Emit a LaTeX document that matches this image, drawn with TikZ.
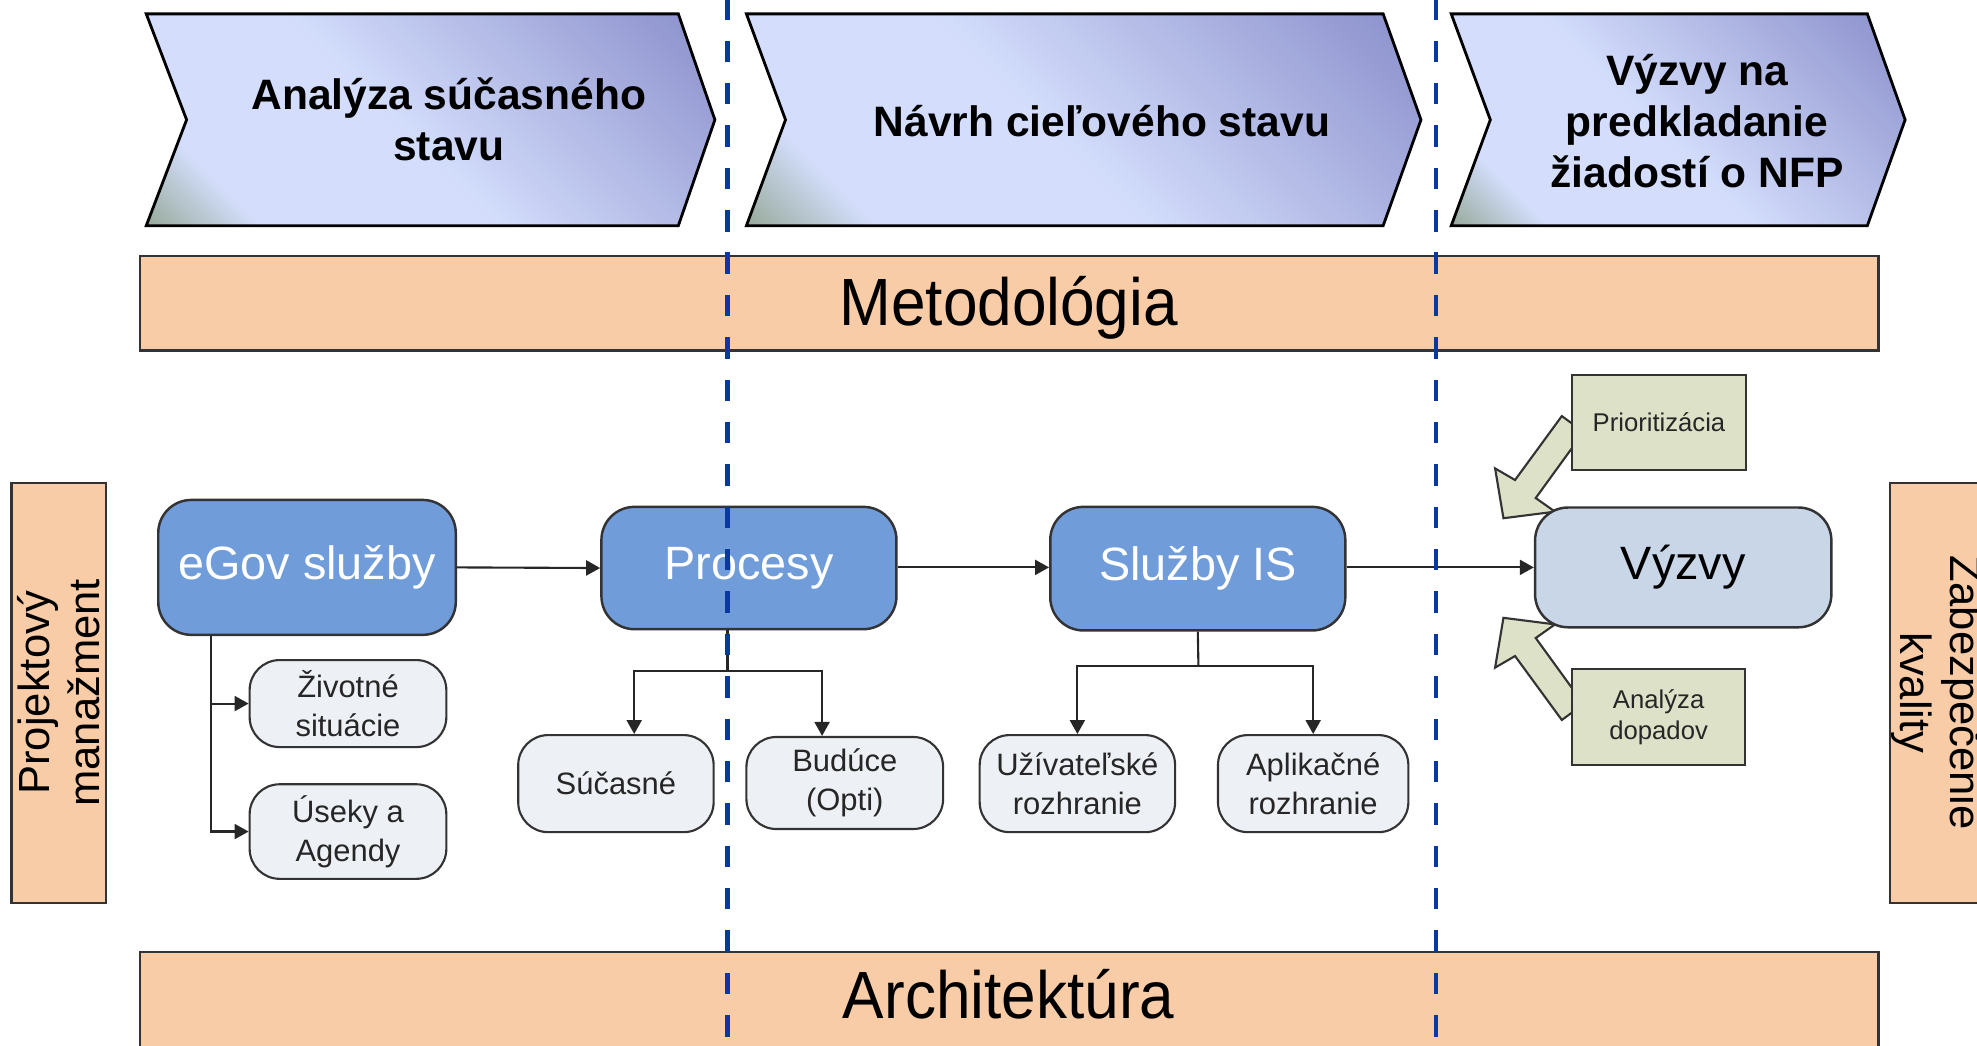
\documentclass[tikz,border=0pt]{standalone}
\usepackage{fontspec}
\setmainfont{Liberation Sans}
\usepackage{graphicx}
\usetikzlibrary{arrows.meta,calc}

\definecolor{chevL}{HTML}{D4DEFC}
\definecolor{chevD}{HTML}{8A8FCB}
\definecolor{chevG}{HTML}{8EA28C}
\definecolor{peach}{HTML}{F9CCA8}
\definecolor{nodeblue}{HTML}{709CDA}
\definecolor{callblue}{HTML}{C8D6E8}
\definecolor{subgray}{HTML}{EDF0F5}
\definecolor{olive}{HTML}{DDE1C7}
\definecolor{edgegray}{HTML}{333333}
\definecolor{phaseblue}{HTML}{0838A0}

% diagonal gradient of the phase chevrons: greenish corner, light body, dark end
\pgfdeclarehorizontalshading{chevshade}{100bp}{color(0bp)=(chevG); color(13bp)=(chevG); color(25bp)=(chevL); color(46bp)=(chevL); color(85bp)=(chevD); color(100bp)=(chevD)}

\newcommand\pxu{0.01261cm}

\begin{document}
\begin{tikzpicture}[x=0.01261cm,y=-0.01261cm,
  chevron/.style={draw=black, line width=0.8pt, shade, shading=chevshade, shading angle=45},
  chevtext/.style={font=\fontsize{12.1}{14.5}\selectfont\bfseries, align=center, inner sep=0},
  bar/.style={draw=edgegray, line width=0.7pt, fill=peach, inner sep=0},
  bartext/.style={font=\fontsize{19}{22}\selectfont, inner sep=0},
  sidebar/.style={draw=edgegray, line width=0.7pt, fill=peach, inner sep=0, align=center,
    minimum width=333*\pxu, minimum height=75*\pxu, font=\fontsize{12.4}{14.2}\selectfont},
  mainbox/.style={draw=edgegray, line width=0.7pt, fill=nodeblue, rounded corners=0.33cm,
    text=white, inner sep=0, font=\fontsize{13.3}{16}\selectfont},
  callbox/.style={mainbox, fill=callblue, text=black},
  subbox/.style={draw=edgegray, line width=0.6pt, fill=subgray, rounded corners=0.3cm,
    text=black!85, inner sep=0, align=center, font=\fontsize{8.8}{11.1}\selectfont},
  notebox/.style={draw=edgegray, line width=0.6pt, fill=olive, inner sep=0, align=center,
    text=black!85, font=\fontsize{7.3}{8.9}\selectfont},
  blockarrow/.style={draw=edgegray, line width=0.6pt, fill=olive, line join=miter},
  link/.style={draw=black!85, line width=0.6pt},
  conn/.style={link, -{Triangle[length=1.4mm,width=1.5mm]}},
  phaseline/.style={draw=phaseblue, line width=1.32pt, dash pattern=on 6.1pt off 5.95pt, dash phase=0.5pt}
]
\useasboundingbox (0,0) rectangle (1568,829);
\clip (0,0) rectangle (1568,829);

% phase chevrons
\path[chevron] (116,11) -- (538,11) -- (567,95) -- (538,179) -- (116,179) -- (148,95) -- cycle;
\path[chevron] (592,11) -- (1097,11) -- (1127,95) -- (1097,179) -- (592,179) -- (623,95) -- cycle;
\path[chevron] (1151,11) -- (1481,11) -- (1511,95) -- (1481,179) -- (1151,179) -- (1182,95) -- cycle;
\node[chevtext] (ph1) at (356,95) {Analýza súčasného\\stavu};
\node[chevtext] (ph2) at (874,96) {Návrh cieľového stavu};
\node[chevtext] (ph3) at (1346,96) {Výzvy na\\predkladanie\\žiadostí o NFP};

% horizontal layers
\node[bar, minimum width=1379*\pxu, minimum height=75*\pxu] (metod) at (800.5,240.5) {};
\node[bartext, anchor=base] (metodtext) at (800,258) {\scalebox{0.93}[1]{Metodológia}};
\node[bar, minimum width=1379*\pxu, minimum height=90*\pxu] (arch) at (800.5,800) {};
\node[bartext, anchor=base] (archtext) at (800,808) {\scalebox{0.93}[1]{Architektúra}};

% vertical layers
\node[sidebar, rotate=90] (pm) at (46.5,549.5) {Projektový\\manažment};
\node[sidebar, rotate=-90] (zk) at (1536.5,549.5) {Zabezpečenie\\kvality};

% block arrows feeding the calls
\path[blockarrow] (1238.7,330) -- (1256,342.6) -- (1218,395) -- (1233.3,405.8) -- (1192.4,411) -- (1185.8,371.5) -- (1201.6,380.7) -- cycle;
\path[blockarrow] (1238.7,571) -- (1256,558.4) -- (1218,506) -- (1233.3,495.2) -- (1192.4,490) -- (1185.8,529.5) -- (1201.6,520.3) -- cycle;

% main chain
\node[mainbox, minimum width=236*\pxu, minimum height=107*\pxu] (egov) at (243.5,450) {eGov služby};
\node[mainbox, minimum width=234*\pxu, minimum height=97*\pxu] (proc) at (594,450.5) {Procesy};
\node[mainbox, minimum width=234*\pxu, minimum height=98*\pxu] (sis) at (950,451) {Služby IS};
\node[callbox, minimum width=235*\pxu, minimum height=95*\pxu] (vyzvy) at (1335,450) {Výzvy};

% notes on the calls
\node[notebox, minimum width=137.5*\pxu, minimum height=75.3*\pxu] (prior) at (1315.75,335.1) {Prioritizácia};
\node[notebox, minimum width=137*\pxu, minimum height=76*\pxu] (dopad) at (1315.5,568.6) {Analýza\\dopadov};

% detail boxes
\node[subbox, minimum width=156*\pxu, minimum height=69*\pxu] (zivot) at (276,558) {Životné\\situácie};
\node[subbox, minimum width=156*\pxu, minimum height=75*\pxu] (useky) at (276,659.5) {Úseky a\\Agendy};
\node[subbox, minimum width=155*\pxu, minimum height=77*\pxu] (sucas) at (488.5,621.5) {Súčasné};
\node[subbox, minimum width=156*\pxu, minimum height=73*\pxu] (buduce) at (670,621) {Budúce\\(Opti)};
\node[subbox, minimum width=155*\pxu, minimum height=77*\pxu] (uziv) at (854.5,621.5) {Užívateľské\\rozhranie};
\node[subbox, minimum width=151*\pxu, minimum height=77*\pxu] (aplik) at (1041.5,621.5) {Aplikačné\\rozhranie};

% chain connectors
\draw[conn] (egov.east) -- (proc.west);
\draw[conn] (proc.east |- egov.east) -- (sis.west |- egov.east);
\draw[conn] (sis.east |- egov.east) -- (vyzvy.west |- egov.east);

% branches
\coordinate (ebr) at (167,503);
\draw[conn] (egov.south -| ebr) |- (zivot.west);
\draw[conn] (egov.south -| ebr) |- (useky.west);

\coordinate (pbr) at (577,532);
\coordinate (pleft) at (503,532);
\coordinate (pright) at (652,532);
\draw[link] (proc.south -| pbr) -- (pbr);
\draw[conn] (pbr) -- (pleft) -- (sucas.north -| pleft);
\draw[conn] (pbr) -- (pright) -- (buduce.north -| pright);

\coordinate (sbr) at (950.5,528);
\draw[link] (sis.south) -- (sbr);
\draw[conn] (sbr) -| (uziv.north);
\draw[conn] (sbr) -| (aplik.north);

% phase boundaries
\draw[phaseline] (577,0) -- (577,829);
\draw[phaseline] (1139,0) -- (1139,829);
\end{tikzpicture}
\end{document}
